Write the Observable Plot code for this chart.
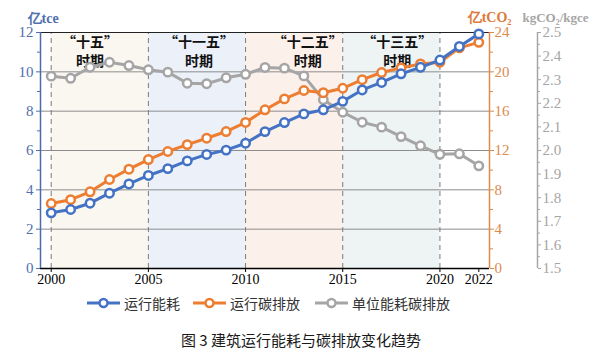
<!DOCTYPE html>
<html><head><meta charset="utf-8">
<script src="https://cdn.jsdelivr.net/npm/d3@7"></script>
<script src="https://cdn.jsdelivr.net/npm/@observablehq/plot@0.6"></script>
<style>
body{margin:0;background:#fff;font-family:"Noto Sans CJK SC","Noto Sans",sans-serif;}
#wrap{width:594px;position:relative;}
#legend{position:relative;height:26px;font-size:14px;color:#333;}
.item{position:absolute;top:0;display:flex;align-items:center;height:26px;}
.item svg{margin-right:4px;}
#title{text-align:center;font-size:15px;color:#1a1a1a;margin-top:13px;padding-left:8px;}
</style></head><body><div id="wrap"><div id="chart"></div>
<div id="legend"></div>
<div id="title">图 3 建筑运行能耗与碳排放变化趋势</div></div>
<script>
const years = [2000,2001,2002,2003,2004,2005,2006,2007,2008,2009,2010,2011,2012,2013,2014,2015,2016,2017,2018,2019,2020,2021,2022];
// 运行能耗 (亿tce)
const energy = [2.83,3.0,3.32,3.83,4.3,4.73,5.08,5.47,5.8,6.02,6.37,6.96,7.42,7.86,8.07,8.5,9.08,9.46,9.9,10.23,10.6,11.29,11.93];
// 运行碳排放 (亿tCO2)
const carbon = [6.61,7.0,7.8,9.05,10.1,11.08,11.9,12.6,13.25,13.93,14.85,16.14,17.25,18.1,17.88,18.33,19.2,19.93,20.4,20.8,20.98,22.44,23.0];
// 单位能耗碳排放 (kgCO2/kgce)
const intensity = [2.315,2.306,2.353,2.374,2.36,2.342,2.332,2.285,2.283,2.308,2.323,2.352,2.349,2.316,2.215,2.162,2.12,2.099,2.059,2.02,1.984,1.986,1.935];

const seriesNames = ["运行能耗","运行碳排放","单位能耗碳排放"];
const periodNames = ["“十五”\n时期","“十一五”\n时期","“十二五”\n时期","“十三五”\n时期"];
const periodStart = [2000,2005,2010,2015];
const periodEnd = [2005,2010,2015,2020];
const periodLabelYear = [2002,2007.6,2013.2,2017.8];
const xTicks = [2000,2005,2010,2015,2020,2022];
const leftTicks = [0,2,4,6,8,10,12];
const carbonTicks = [0,4,8,12,16,20,24];
const intensityTicks = [1.5,1.6,1.7,1.8,1.9,2.0,2.1,2.2,2.3,2.4,2.5];

const blue = "#4472c4", orange = "#ed7d31", gray = "#a5a5a5";
const bandColors = ["#faf7f0","#ebf0f9","#fcf0ea","#eef4f4"];
const serif = "Liberation Serif, Times New Roman, Tinos, DejaVu Serif, serif";
const cjk = "Noto Sans CJK SC, sans-serif";

// map secondary axes onto the primary 0–12 scale
const cToY = v => v / 2;
const iToY = v => (v - 1.5) * 12;
const yToC = y => Math.round(y * 2);
const yToI = y => (y / 12 + 1.5).toFixed(1);

const xDomain = [1999.45, 2022.55];
const rows = years.map((yr, i) => ({year: yr, energy: energy[i], carbon: carbon[i], intensity: intensity[i]}));
const periods = periodNames.map((n, i) => ({name: n, start: periodStart[i], end: periodEnd[i], lx: periodLabelYear[i], color: bandColors[i]}));

const minorLeft = leftTicks.slice(0, -1).map(v => v + 1);
const minorInt = intensityTicks.slice(0, -1).map(v => iToY(v + 0.05));

const chart = Plot.plot({
  width: 594, height: 290,
  marginTop: 32, marginBottom: 22, marginLeft: 40, marginRight: 105,
  style: {fontFamily: serif, fontSize: "14px", background: "#fff"},
  x: {domain: xDomain, axis: null},
  y: {domain: [0, 12], axis: null},
  marks: [
    Plot.rect(periods, {x1: "start", x2: "end", y1: 0, y2: 12, fill: d => d.color}),
    Plot.ruleY([2,4,6,8,10], {stroke: "#8c8c8c", strokeWidth: 1}),
    Plot.ruleX(periodStart.concat([2020]), {y1: 0, y2: 12, stroke: "#7a7a7a", strokeDasharray: "5,4", strokeWidth: 1}),
    Plot.ruleY([12], {stroke: "#222", strokeWidth: 1}),
    Plot.ruleY([0], {stroke: "#000", strokeWidth: 1.5}),
    Plot.ruleX([xDomain[0]], {y1: 0, y2: 12, stroke: "#4a6aa8", strokeWidth: 1.5}),
    Plot.ruleX([xDomain[1]], {y1: 0, y2: 12, stroke: "#e08a4a", strokeWidth: 1.5}),
    Plot.ruleX([xDomain[1]], {y1: 0, y2: 12, dx: 48, stroke: gray, strokeWidth: 1.5}),
    // left axis
    Plot.axisY({ticks: leftTicks, label: null, tickSize: 4, tickPadding: 3, color: "#4f6fae", fontSize: 15, fontFamily: serif}),
    Plot.axisY({ticks: minorLeft, label: null, tickSize: 3, tickFormat: () => "", color: "#4f6fae"}),
    // carbon axis
    Plot.axisY({anchor: "right", label: null, ticks: carbonTicks.map(cToY), tickFormat: yToC, tickSize: 4, tickPadding: 1, color: "#dc8a4e", fontSize: 15, fontFamily: serif}),
    Plot.axisY({anchor: "right", label: null, ticks: minorLeft, tickSize: 3, tickFormat: () => "", color: "#dc8a4e"}),
    // intensity axis
    Plot.axisY({anchor: "right", label: null, dx: 48, ticks: intensityTicks.map(iToY), tickFormat: yToI, tickSize: 3, tickPadding: 2, color: gray, fontSize: 15, fontFamily: serif}),
    Plot.axisY({anchor: "right", label: null, dx: 48, ticks: minorInt, tickSize: 2, tickFormat: () => "", color: gray}),
    // x axis
    Plot.axisX({ticks: xTicks, label: null, tickFormat: d => String(d), tickSize: 4, tickPadding: 2, color: "#000", fontSize: 14, fontFamily: serif}),
    // period labels
    Plot.text(periods, {x: "lx", y: 12, text: "name", lineAnchor: "top", dy: 1, lineHeight: 1.35, fontSize: 14, fontWeight: "bold", fontFamily: cjk, fill: "#111"}),
    // series
    Plot.line(rows, {x: "year", y: d => iToY(d.intensity), stroke: gray, strokeWidth: 3}),
    Plot.dot(rows, {x: "year", y: d => iToY(d.intensity), r: 4.2, fill: "#fff", stroke: gray, strokeWidth: 2.5}),
    Plot.line(rows, {x: "year", y: d => cToY(d.carbon), stroke: orange, strokeWidth: 3}),
    Plot.dot(rows, {x: "year", y: d => cToY(d.carbon), r: 4.2, fill: "#fff", stroke: orange, strokeWidth: 2.5}),
    Plot.line(rows, {x: "year", y: "energy", stroke: blue, strokeWidth: 3}),
    Plot.dot(rows, {x: "year", y: "energy", r: 4.2, fill: "#fff", stroke: blue, strokeWidth: 2.5}),
    // axis titles
    Plot.text(["亿tce"], {frameAnchor: "top-left", dx: -13, dy: -19, fontWeight: "bold", fill: "#4f6fae", fontSize: 14, fontFamily: serif}),
    Plot.text(["亿tCO₂"], {frameAnchor: "top-right", dx: 22, dy: -20, textAnchor: "end", fontWeight: "bold", fill: "#dc7a3a", fontSize: 14, fontFamily: serif}),
    Plot.text(["kgCO₂/kgce"], {frameAnchor: "top-right", dx: 33, dy: -20, textAnchor: "start", fontWeight: "bold", fill: gray, fontSize: 13, fontFamily: serif})
  ]
});
document.getElementById("chart").appendChild(chart);

// legend
const legendColors = [blue, orange, gray];
const legendLeft = [87, 193, 315];
const lg = document.getElementById("legend");
seriesNames.forEach((n, i) => {
  const d = document.createElement("div");
  d.className = "item";
  d.style.left = legendLeft[i] + "px";
  d.innerHTML = `<svg width="33" height="12"><line x1="0" y1="6" x2="33" y2="6" stroke="${legendColors[i]}" stroke-width="3"/><circle cx="16.5" cy="6" r="4" fill="#fff" stroke="${legendColors[i]}" stroke-width="2.5"/></svg><span>${n}</span>`;
  lg.appendChild(d);
});
</script></body></html>
